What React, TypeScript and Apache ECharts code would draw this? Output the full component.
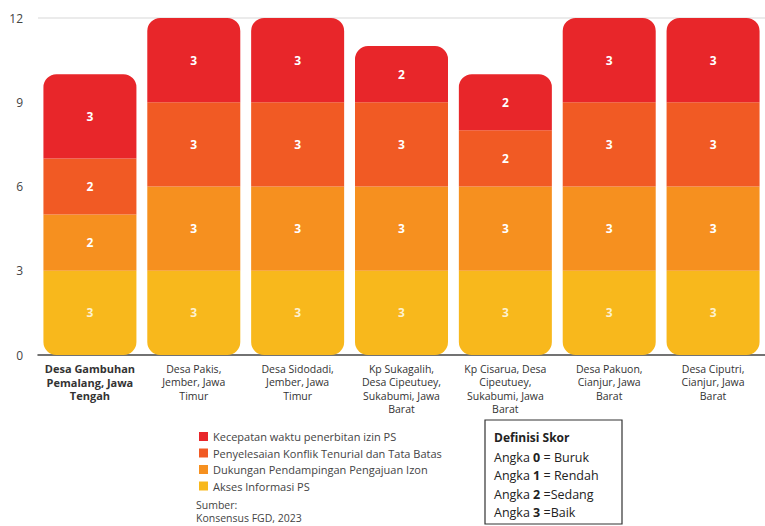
import React, { useEffect, useRef } from "react";
import * as echarts from "echarts";

const categories = [
  "Desa Gambuhan\nPemalang, Jawa\nTengah",
  "Desa Pakis,\nJember, Jawa\nTimur",
  "Desa Sidodadi,\nJember, Jawa\nTimur",
  "Kp Sukagalih,\nDesa Cipeutuey,\nSukabumi, Jawa\nBarat",
  "Kp Cisarua, Desa\nCipeutuey,\nSukabumi, Jawa\nBarat",
  "Desa Pakuon,\nCianjur, Jawa\nBarat",
  "Desa Ciputri,\nCianjur, Jawa\nBarat",
];

const seriesNames = [
  "Akses Informasi PS",
  "Dukungan Pendampingan Pengajuan Izon",
  "Penyelesaian Konflik Tenurial dan Tata Batas",
  "Kecepatan waktu penerbitan izin PS",
];

const aksesInformasi = [3, 3, 3, 3, 3, 3, 3];
const dukunganPendampingan = [2, 3, 3, 3, 3, 3, 3];
const penyelesaianKonflik = [2, 3, 3, 3, 2, 3, 3];
const kecepatanWaktu = [3, 3, 3, 2, 2, 3, 3];

const yMin = 0;
const yMax = 12;
const yInterval = 3;

const definisiLines = [
  { angka: "0", teks: " = Buruk" },
  { angka: "1", teks: " = Rendah" },
  { angka: "2", teks: " =Sedang" },
  { angka: "3", teks: " =Baik" },
];

const colors = ["#F8B81C", "#F6901F", "#F15A24", "#E8262A"];
const FONT = "'Open Sans', 'Noto Sans', sans-serif";

export default function App() {
  const ref = useRef<HTMLDivElement>(null);
  useEffect(() => {
    if (!ref.current) return;
    const chart = echarts.init(ref.current, null, { renderer: "svg" });
    const values = [aksesInformasi, dukunganPendampingan, penyelesaianKonflik, kecepatanWaktu];
    const series = values.map((vals, i) => ({
      name: seriesNames[i],
      type: "bar",
      stack: "total",
      barWidth: 93,
      data: vals,
      itemStyle: {
        color: colors[i],
        borderRadius: i === 3 ? [13, 13, 0, 0] : i === 0 ? [0, 0, 13, 13] : 0,
      },
      label: {
        show: true,
        position: "inside",
        color: i === 0 ? "#FDF1CF" : "#FFFFFF",
        fontWeight: "bold",
        fontSize: 12,
        fontFamily: FONT,
      },
    }));

    const graphics: any[] = [
      {
        type: "rect",
        shape: { x: 485, y: 420, width: 137, height: 104 },
        style: { fill: "none", stroke: "#333", lineWidth: 1.2 },
      },
      {
        type: "text",
        x: 494,
        y: 437,
        style: {
          text: "Definisi Skor",
          fontFamily: FONT,
          fontSize: 12,
          fontWeight: "bold",
          fill: "#222",
          verticalAlign: "middle",
        },
      },
      ...definisiLines.map((d, i) => ({
        type: "text",
        x: 494,
        y: 457 + i * 18.5,
        style: {
          text: "Angka {b|" + d.angka + "}" + d.teks,
          fontFamily: FONT,
          fontSize: 12.5,
          fill: "#222",
          verticalAlign: "middle",
          rich: {
            b: { fontFamily: FONT, fontSize: 12.5, fontWeight: "bold", fill: "#222" },
          },
        },
      })),
      {
        type: "text",
        x: 196,
        y: 505,
        style: { text: "Sumber:", fontFamily: FONT, fontSize: 10.5, fill: "#444", verticalAlign: "middle" },
      },
      {
        type: "text",
        x: 196,
        y: 518,
        style: { text: "Konsensus FGD, 2023", fontFamily: FONT, fontSize: 10.5, fill: "#444", verticalAlign: "middle" },
      },
    ];

    chart.setOption({
      animation: false,
      grid: { left: 38, right: -2, top: 18, bottom: 526 - 355 },
      legend: {
        orient: "vertical",
        left: 194,
        top: 425,
        icon: "rect",
        itemWidth: 9,
        itemHeight: 9,
        itemGap: 3.5,
        data: [...seriesNames].reverse(),
        textStyle: { fontFamily: FONT, fontSize: 11, color: "#444", lineHeight: 13 },
        selectedMode: false,
      },
      xAxis: {
        type: "category",
        data: categories,
        axisLine: { show: true, lineStyle: { color: "#444", width: 1.5 } },
        axisTick: { show: false },
        axisLabel: {
          interval: 0,
          margin: 7,
          fontFamily: FONT,
          fontSize: 10.5,
          lineHeight: 13.5,
          color: "#333",
          formatter: (v: string, idx: number) =>
            idx === 0 ? v.split("\n").map((s) => "{f|" + s + "}").join("\n") : v,
          rich: {
            f: { fontFamily: FONT, fontSize: 11, fontWeight: "bold", color: "#333", lineHeight: 13.5 },
          },
        },
      },
      yAxis: {
        type: "value",
        min: yMin,
        max: yMax,
        interval: yInterval,
        axisLine: { show: false },
        axisTick: { show: false },
        axisLabel: { fontFamily: FONT, fontSize: 12, color: "#444", margin: 15 },
        splitLine: {
          show: true,
          lineStyle: { color: ["transparent", "transparent", "transparent", "transparent", "#e4e4e4"], width: 1.5 },
        },
      },
      series,
      graphic: graphics,
    });
    return () => chart.dispose();
  }, []);
  return (
    <div
      ref={ref}
      style={{ position: "absolute", left: 0, top: 0, width: 765, height: 526, background: "#fff" }}
    />
  );
}
